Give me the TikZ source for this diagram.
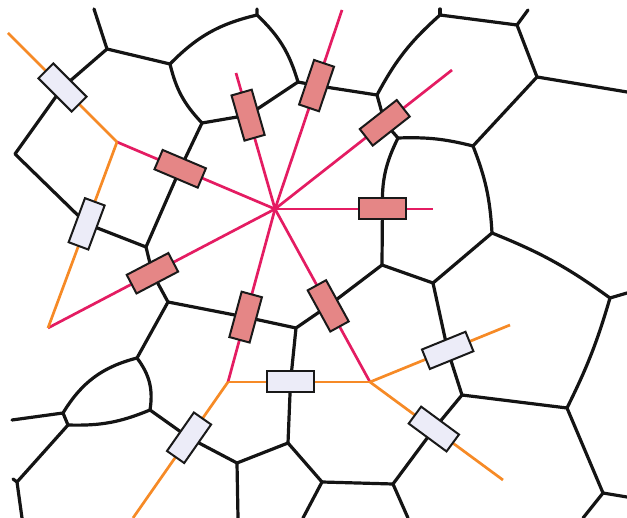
\documentclass[tikz,border=0pt]{standalone}
\usepackage{tikz}
\usetikzlibrary{backgrounds}
\definecolor{rayMagenta}{RGB}{228,28,98}
\definecolor{rayOrange}{RGB}{246,138,38}
\definecolor{boxRose}{RGB}{229,134,134}
\definecolor{boxLilac}{RGB}{236,236,248}

\begin{document}
\begin{tikzpicture}[x=1pt,y=-1pt,
    wall/.style={line width=3.2pt,line cap=round,line join=round,black!92},
    ray/.style={line width=2.7pt,rayMagenta},
    feed/.style={line width=2.7pt,rayOrange},
    cellbox/.style={draw=black!90,line width=2pt,minimum width=47pt,
                    minimum height=21pt,inner sep=0pt,sloped},
    rosebox/.style={cellbox,fill=boxRose},
    lilacbox/.style={cellbox,fill=boxLilac}]

    \useasboundingbox (0,0) rectangle (627,518);

    % hub and ray ends
    \coordinate (hub) at (275,209);
    \coordinate (m1) at (117,142);
    \coordinate (m2) at (236,73);
    \coordinate (m3) at (342,10);
    \coordinate (m4) at (452,70);
    \coordinate (m5) at (433,209);
    \coordinate (m6) at (370,382);
    \coordinate (m7) at (228,382);
    \coordinate (m8) at (48,328);
    \coordinate (f0) at (8,33);
    \coordinate (f4) at (133,518);
    \coordinate (f5) at (510,325);
    \coordinate (f6) at (503,480);

    % magenta rays
    \draw[ray] (hub) -- node[rosebox,pos=0.60] (r1) {} (m1);
    \draw[ray] (hub) -- node[rosebox,pos=0.69] (r2) {} (m2);
    \draw[ray] (hub) -- node[rosebox,pos=0.62] (r3) {} (m3);
    \draw[ray] (hub) -- node[rosebox,pos=0.62] (r4) {} (m4);
    \draw[ray] (hub) -- node[rosebox,pos=0.68] (r5) {} (m5);
    \draw[ray] (hub) -- node[rosebox,pos=0.56] (r6) {} (m6);
    \draw[ray] (hub) -- node[rosebox,pos=0.625] (r7) {} (m7);
    \draw[ray] (hub) -- node[rosebox,pos=0.54] (r8) {} (m8);

    % orange feeds
    \draw[feed] (f0) -- node[lilacbox,pos=0.50] (l1) {} (m1);
    \draw[feed] (m1) -- node[lilacbox,pos=0.44] (l2) {} (m8);
    \draw[feed] (m7) -- node[lilacbox,pos=0.44] (l3) {} (m6);
    \draw[feed] (m7) -- node[lilacbox,pos=0.41] (l4) {} (f4);
    \draw[feed] (m6) -- node[lilacbox,pos=0.555] (l5) {} (f5);
    \draw[feed] (m6) -- node[lilacbox,pos=0.48] (l6) {} (f6);

    % cell vertices
    \coordinate (v1) at (107,49);   \coordinate (t1) at (94,9);
    \coordinate (v2) at (170,64);
    \coordinate (v3) at (15,154);
    \coordinate (v4) at (146,247);
    \coordinate (v5) at (257,15);   \coordinate (t5) at (257,9);
    \coordinate (v6) at (298,82);
    \coordinate (v7) at (202,123);
    \coordinate (v8) at (377,95);
    \coordinate (v9) at (440,15);   \coordinate (t9) at (440,9);
    \coordinate (v10) at (517,25);  \coordinate (t10) at (528,10);
    \coordinate (v11) at (537,77);  \coordinate (e11) at (627,92);
    \coordinate (v12) at (473,146);
    \coordinate (v13) at (398,138);
    \coordinate (v14) at (382,265);
    \coordinate (v15) at (433,283);
    \coordinate (v16) at (492,233);
    \coordinate (v17) at (610,298); \coordinate (e17) at (627,293);
    \coordinate (v18) at (567,408);
    \coordinate (v19) at (462,395);
    \coordinate (v20) at (603,493); \coordinate (e20a) at (627,497);
    \coordinate (e20b) at (583,518);
    \coordinate (v21) at (393,484); \coordinate (e21) at (408,518);
    \coordinate (v22) at (322,482); \coordinate (e22) at (303,518);
    \coordinate (v23) at (288,443);
    \coordinate (v24) at (237,463); \coordinate (e24) at (238,518);
    \coordinate (v25) at (296,328);
    \coordinate (v26) at (168,302);
    \coordinate (v27) at (137,358);
    \coordinate (v28) at (63,413);  \coordinate (e28) at (12,420);
    \coordinate (v29) at (68,425);
    \coordinate (v30) at (150,410);
    \coordinate (v31) at (17,482);  \coordinate (t31) at (13,479);
    \coordinate (e31) at (22,518);

    % cell walls, under the boxes
    \begin{scope}[on background layer]
    \draw[wall] (t1) -- (v1) -- (v2);
    \draw[wall] (v1) -- (l1.center) -- (v3) -- (l2.center) -- (v4);
    \draw[wall] (v2) to[bend left=16] (v5);
    \draw[wall] (t5) -- (v5) to[bend left=15] (v6);
    \draw[wall] (v2) to[bend right=15] (v7);
    \draw[wall] (v7) -- (r2.center) -- (v6) -- (r3.center) -- (v8);
    \draw[wall] (v7) -- (r1.center) -- (v4) -- (r8.center) -- (v26);
    \draw[wall] (v8) to[bend left=10] (v9) -- (v10) -- (v11) -- (e11);
    \draw[wall] (t9) -- (v9);
    \draw[wall] (t10) -- (v10);
    \draw[wall] (v11) -- (v12);
    \draw[wall] (v8) -- (r4.center) -- (v13) to[bend left=8] (v12);
    \draw[wall] (v13) to[bend right=14] (r5.center) -- (v14);
    \draw[wall] (v12) to[bend left=9] (v16);
    \draw[wall] (v14) -- (v15) -- (v16) to[bend left=7] (v17) -- (e17);
    \draw[wall] (v17) to[bend left=5] (v18) -- (v20) -- (e20a);
    \draw[wall] (v20) -- (e20b);
    \draw[wall] (v15) -- (l5.center) -- (v19) -- (v18);
    \draw[wall] (v19) -- (l6.center) -- (v21) -- (e21);
    \draw[wall] (v21) -- (v22) -- (e22);
    \draw[wall] (v22) -- (v23) -- (v24) -- (e24);
    \draw[wall] (v23) -- (l3.center) -- (v25) -- (r6.center) -- (v14);
    \draw[wall] (v25) -- (r7.center) -- (v26) -- (v27);
    \draw[wall] (v27) to[bend right=22] (v28) -- (e28);
    \draw[wall] (v27) to[bend left=23] (v30) to[bend left=12] (v29);
    \draw[wall] (v28) -- (v29) -- (v31) -- (e31);
    \draw[wall] (v31) -- (t31);
    \draw[wall] (v30) -- (l4.center) -- (v24);
    \end{scope}
\end{tikzpicture}
\end{document}
